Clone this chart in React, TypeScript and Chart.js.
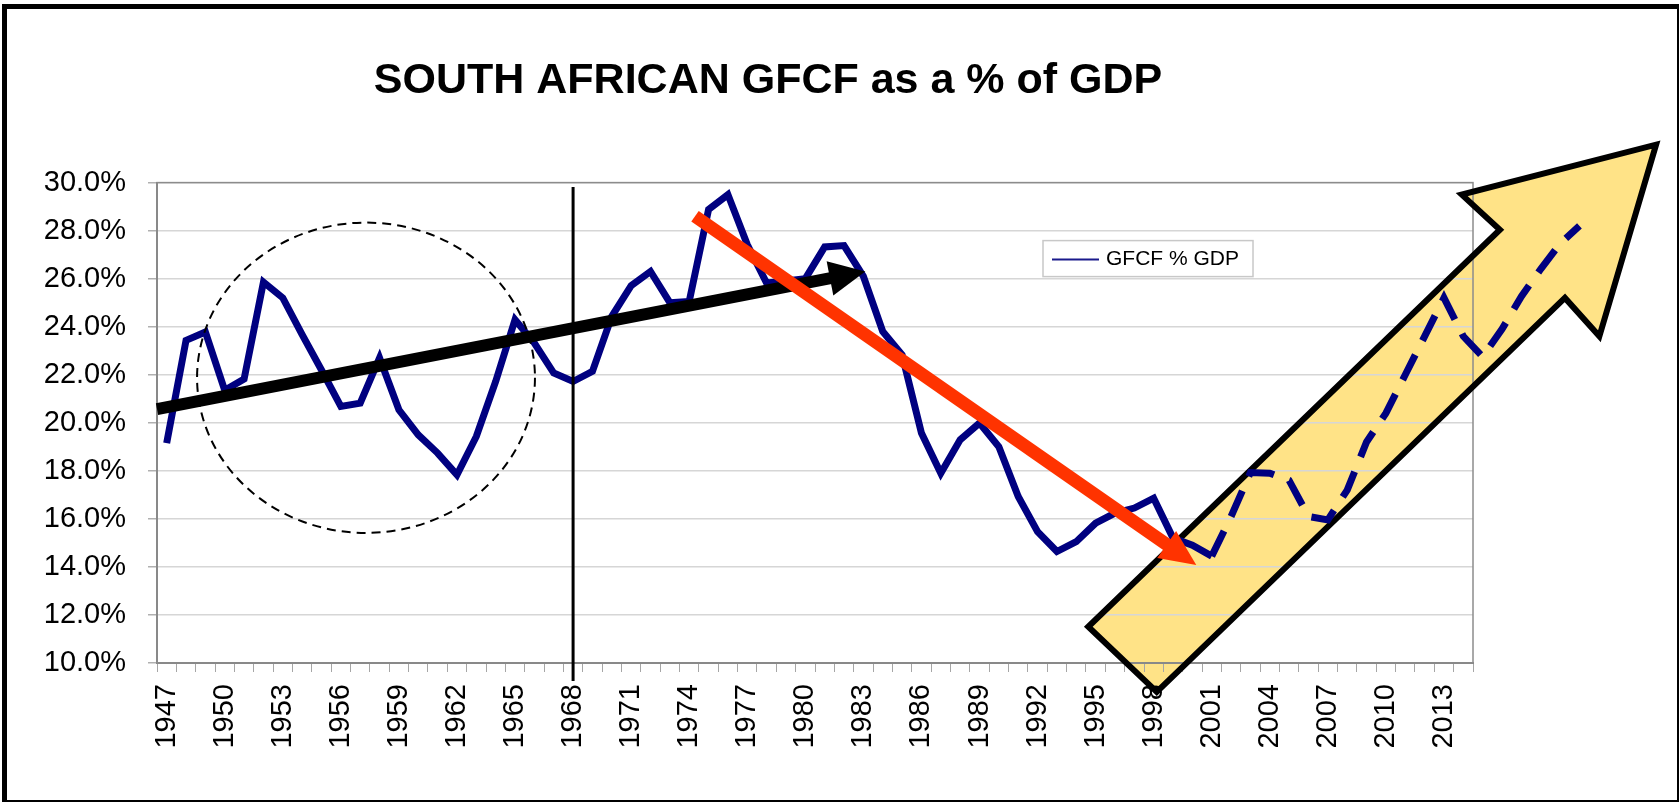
import React, { useEffect, useRef } from 'react';
import { Chart, registerables } from 'chart.js';

Chart.register(...registerables);

const FONT = "'Liberation Sans', Arial, sans-serif";

// Category axis: years shown in the chart
const categories = [
  '1947', '1948', '1949', '1950', '1951', '1952', '1953', '1954', '1955', '1956',
  '1957', '1958', '1959', '1960', '1961', '1962', '1963', '1964', '1965', '1966',
  '1967', '1968', '1969', '1970', '1971', '1972', '1973', '1974', '1975', '1976',
  '1977', '1978', '1979', '1980', '1981', '1982', '1983', '1984', '1985', '1986',
  '1987', '1988', '1989', '1990', '1991', '1992', '1993', '1994', '1995', '1996',
  '1997', '1998', '1999', '2000', '2001', '2002', '2003', '2004', '2005', '2006',
  '2007', '2008', '2009', '2010', '2011', '2012', '2013', '2014',
];

// GFCF as % of GDP, 1947..2001 (solid series)
const gfcfValues = [
  19.15, 23.43, 23.78, 21.35, 21.82, 25.86, 25.2, 23.67, 22.2, 20.68,
  20.82, 22.7, 20.54, 19.5, 18.74, 17.83, 19.43, 21.72, 24.29, 23.32,
  22.07, 21.72, 22.14, 24.43, 25.71, 26.3, 25.0, 25.05, 28.88, 29.5,
  27.42, 25.82, 25.9, 26.0, 27.32, 27.38, 26.1, 23.8, 22.83, 19.57,
  17.9, 19.29, 19.99, 19.0, 16.93, 15.47, 14.64, 15.05, 15.82, 16.24,
  16.45, 16.86, 15.2, 14.9, 14.45,
];

// Dashed projection drawn over the big yellow arrow
const projectionYears = [
  2001, 2002, 2003, 2004, 2005, 2006, 2007, 2008, 2009, 2010,
  2011, 2012, 2013, 2014, 2015, 2016, 2017, 2018, 2019, 2020,
];
const projectionValues = [
  14.45, 16.1, 17.93, 17.9, 17.6, 16.1, 15.96, 17.2, 19.2, 20.4,
  22.0, 23.6, 25.2, 23.6, 22.75, 23.9, 25.26, 26.4, 27.46, 28.2,
];

// Y axis
const yMin = 10;
const yMax = 30;
const yStep = 2;
const labelEvery = 3;

// Annotations (year, value)
const circleCentre = [1957.3, 21.875];
const circleRadius = [8.73, 6.46];
const blackArrowFrom = [1946.5, 20.57];
const blackArrowTo = [1983.1, 26.3];
const redArrowFrom = [1974.3, 28.6];
const redArrowTo = [2000.2, 14.08];
const markerYear = 1968;
const markerRange = [29.82, 9.25];
const bigArrowYears = [1994.62, 2015.89, 2013.92, 2023.96, 2021.03, 2019.25, 1998.16];
const bigArrowValues = [11.51, 28.04, 29.5, 31.58, 23.6, 25.2, 8.8];

const TITLE = 'SOUTH AFRICAN GFCF as a % of GDP';
const SERIES_LABEL = 'GFCF % GDP';

function drawArrow(ctx: CanvasRenderingContext2D, x1: number, y1: number, x2: number, y2: number,
  shaft: number, headLen: number, headW: number, color: string) {
  const dx = x2 - x1;
  const dy = y2 - y1;
  const L = Math.hypot(dx, dy);
  const ux = dx / L;
  const uy = dy / L;
  const bx = x2 - ux * headLen;
  const by = y2 - uy * headLen;
  ctx.save();
  ctx.strokeStyle = color;
  ctx.lineWidth = shaft;
  ctx.lineCap = 'butt';
  ctx.beginPath();
  ctx.moveTo(x1, y1);
  ctx.lineTo(bx + ux * 2, by + uy * 2);
  ctx.stroke();
  ctx.fillStyle = color;
  ctx.beginPath();
  ctx.moveTo(x2, y2);
  ctx.lineTo(bx - uy * headW / 2, by + ux * headW / 2);
  ctx.lineTo(bx + uy * headW / 2, by - ux * headW / 2);
  ctx.closePath();
  ctx.fill();
  ctx.restore();
}

function bigArrowPath(chart: any) {
  const xs = chart.scales.xp;
  const ys = chart.scales.y;
  const ctx = chart.ctx as CanvasRenderingContext2D;
  ctx.beginPath();
  bigArrowYears.forEach((yr, i) => {
    const px = xs.getPixelForValue(yr);
    const py = ys.getPixelForValue(bigArrowValues[i]);
    if (i === 0) ctx.moveTo(px, py); else ctx.lineTo(px, py);
  });
  ctx.closePath();
}

const overlayPlugin = {
  id: 'overlay',
  afterLayout(chart: any) {
    const t = chart.titleBlock;
    if (t) {
      const shift = 768 - (t.left + t.right) / 2;
      t.left += shift;
      t.right += shift;
    }
  },
  beforeDraw(chart: any) {
    const ctx = chart.ctx as CanvasRenderingContext2D;
    ctx.save();
    ctx.fillStyle = '#ffffff';
    ctx.fillRect(0, 0, chart.width, chart.height);
    bigArrowPath(chart);
    ctx.fillStyle = '#FFE387';
    ctx.fill();
    ctx.restore();
  },
  beforeDatasetsDraw(chart: any) {
    const ctx = chart.ctx as CanvasRenderingContext2D;
    const ca = chart.chartArea;
    ctx.save();
    ctx.strokeStyle = '#8c8c8c';
    ctx.lineWidth = 1.5;
    ctx.strokeRect(ca.left, ca.top, ca.right - ca.left, ca.bottom - ca.top);
    bigArrowPath(chart);
    ctx.strokeStyle = '#000000';
    ctx.lineWidth = 6;
    ctx.lineJoin = 'miter';
    ctx.stroke();
    ctx.restore();
  },
  afterDatasetsDraw(chart: any) {
    const ctx = chart.ctx as CanvasRenderingContext2D;
    const xs = chart.scales.xp;
    const ys = chart.scales.y;
    const ca = chart.chartArea;

    // dashed circle
    const cx = xs.getPixelForValue(circleCentre[0]);
    const cy = ys.getPixelForValue(circleCentre[1]);
    const rx = Math.abs(xs.getPixelForValue(circleCentre[0] + circleRadius[0]) - cx);
    const ry = Math.abs(ys.getPixelForValue(circleCentre[1] + circleRadius[1]) - cy);
    ctx.save();
    ctx.strokeStyle = '#000';
    ctx.lineWidth = 2;
    ctx.setLineDash([9, 6]);
    ctx.beginPath();
    ctx.ellipse(cx, cy, rx, ry, 0, 0, Math.PI * 2);
    ctx.stroke();
    ctx.restore();

    // vertical marker
    const mx = xs.getPixelForValue(markerYear);
    ctx.save();
    ctx.strokeStyle = '#000';
    ctx.lineWidth = 3;
    ctx.beginPath();
    ctx.moveTo(mx, ys.getPixelForValue(markerRange[0]));
    ctx.lineTo(mx, ys.getPixelForValue(markerRange[1]));
    ctx.stroke();
    ctx.restore();

    // black trend arrow
    drawArrow(ctx,
      xs.getPixelForValue(blackArrowFrom[0]), ys.getPixelForValue(blackArrowFrom[1]),
      xs.getPixelForValue(blackArrowTo[0]), ys.getPixelForValue(blackArrowTo[1]),
      12, 36, 35, '#000000');
    // red trend arrow
    drawArrow(ctx,
      xs.getPixelForValue(redArrowFrom[0]), ys.getPixelForValue(redArrowFrom[1]),
      xs.getPixelForValue(redArrowTo[0]), ys.getPixelForValue(redArrowTo[1]),
      13, 36, 33, '#FF3300');

    // legend
    const lx = ca.left + 886;
    const ly = ca.top + 58;
    ctx.save();
    ctx.fillStyle = '#fff';
    ctx.fillRect(lx, ly, 210, 36);
    ctx.strokeStyle = '#c8c8c8';
    ctx.lineWidth = 1.5;
    ctx.strokeRect(lx, ly, 210, 36);
    ctx.strokeStyle = '#1a1a8c';
    ctx.lineWidth = 2;
    ctx.beginPath();
    ctx.moveTo(lx + 9, ly + 19);
    ctx.lineTo(lx + 56, ly + 19);
    ctx.stroke();
    ctx.fillStyle = '#000';
    ctx.font = `21px ${FONT}`;
    ctx.textBaseline = 'middle';
    ctx.textAlign = 'left';
    ctx.fillText(chart.data.datasets[0].label, lx + 63, ly + 19);
    ctx.restore();
  },
  afterDraw(chart: any) {
    const ctx = chart.ctx as CanvasRenderingContext2D;
    ctx.save();
    ctx.fillStyle = '#000';
    ctx.fillRect(2, 4, 5, 798);
    ctx.fillRect(2, 4, 1677, 5);
    ctx.fillRect(1677, 4, 2, 798);
    ctx.fillRect(2, 800, 1677, 2);
    ctx.restore();
  },
};

export default function App() {
  const canvasRef = useRef<HTMLCanvasElement | null>(null);

  useEffect(() => {
    const canvas = canvasRef.current;
    if (!canvas) return;
    const solid = categories.map((_, i) => (i < gfcfValues.length ? gfcfValues[i] : null));
    const dashed = projectionYears.map((yr, i) => ({ x: yr, y: projectionValues[i] }));
    const firstYear = Number(categories[0]);
    const lastYear = Number(categories[categories.length - 1]);

    const chart = new Chart(canvas, {
      type: 'line',
      data: {
        labels: categories,
        datasets: [
          {
            label: SERIES_LABEL,
            data: solid,
            xAxisID: 'x',
            yAxisID: 'y',
            borderColor: '#000080',
            borderWidth: 7,
            pointRadius: 0,
            tension: 0,
            fill: false,
            spanGaps: false,
          },
          {
            label: 'projection',
            data: dashed as any,
            xAxisID: 'xp',
            yAxisID: 'y',
            borderColor: '#000080',
            borderWidth: 7,
            borderDash: [28, 16],
            borderCapStyle: 'butt',
            pointRadius: 0,
            tension: 0,
            fill: false,
            clip: false as any,
          },
        ],
      },
      options: {
        animation: false,
        responsive: false,
        events: [],
        layout: { padding: { left: 0, right: 206, top: 0, bottom: 0 } },
        plugins: {
          legend: { display: false },
          tooltip: { enabled: false },
          title: {
            display: true,
            text: TITLE,
            color: '#000',
            font: { family: FONT, size: 43, weight: 'bold' },
            padding: { top: 55, bottom: 76 },
          },
        },
        scales: {
          x: {
            type: 'category',
            position: 'bottom',
            offset: true,
            afterFit: (scale: any) => { scale.height = 140; },
            grid: {
              display: true,
              drawOnChartArea: false,
              drawTicks: true,
              offset: true,
              tickLength: 9,
              tickColor: '#a6a6a6',
              tickWidth: 1,
            },
            border: { display: true, color: '#808080', width: 2 },
            ticks: {
              autoSkip: false,
              minRotation: 90,
              maxRotation: 90,
              padding: 12,
              color: '#000',
              font: { family: FONT, size: 29 },
              callback: function (this: any, value: any, index: number) {
                return index % labelEvery === 0 ? this.getLabelForValue(value) : '';
              },
            },
          },
          xp: {
            type: 'linear',
            position: 'bottom',
            display: false,
            bounds: 'data',
            afterDataLimits: (scale: any) => {
              scale.min = firstYear - 0.5;
              scale.max = lastYear + 0.5;
            },
          },
          y: {
            type: 'linear',
            position: 'left',
            min: yMin,
            max: yMax,
            afterFit: (scale: any) => { scale.width = 157; },
            grid: {
              color: '#d6d6d6',
              lineWidth: 1.5,
              tickLength: 9,
              tickColor: '#b0b0b0',
            },
            border: { display: true, color: '#808080', width: 2 },
            ticks: {
              stepSize: yStep,
              padding: 22,
              color: '#000',
              font: { family: FONT, size: 29 },
              callback: (v: any) => Number(v).toFixed(1) + '%',
            },
          },
        },
      },
      plugins: [overlayPlugin],
    } as any);

    return () => chart.destroy();
  }, []);

  return (
    <div style={{ position: 'absolute', left: 0, top: 0, width: 1679, height: 803 }}>
      <canvas ref={canvasRef} width={1679} height={803} style={{ display: 'block' }} />
    </div>
  );
}
